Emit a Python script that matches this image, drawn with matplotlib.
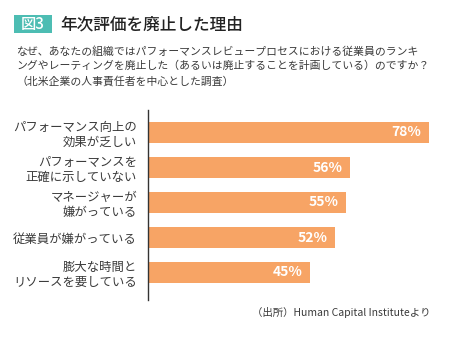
import matplotlib
matplotlib.use("Agg")
import matplotlib.pyplot as plt
from matplotlib.patches import Rectangle

plt.rcParams['font.family'] = ['Noto Sans CJK JP', 'DejaVu Sans']

# データ
reasons = ['パフォーマンス向上の\n効果が乏しい',
           'パフォーマンスを\n正確に示していない',
           'マネージャーが\n嫌がっている',
           '従業員が嫌がっている',
           '膨大な時間と\nリソースを要している']
values = [78, 56, 55, 52, 45]
value_labels = ['78%', '56%', '55%', '52%', '45%']

bar_color = '#F7A465'
text_color = '#3a3a3a'

fig = plt.figure(figsize=(4.58, 3.46), dpi=100)
W, H = 458, 346

# 軸: x=148px から右端まで, y=110px から 300px
ax = fig.add_axes([148 / W, (H - 300) / H, (W - 148) / W, 190 / H])
ypos = list(range(len(values)))
ax.barh(ypos, values, height=0.6, color=bar_color)
ax.set_xlim(0, (W - 148) / 3.6)
ax.set_ylim(4 + 27.5 / 35, -22.5 / 35)

for y, v, lab in zip(ypos, values, value_labels):
    ax.text(v - 2, y, lab, ha='right', va='center', color='white',
            fontsize=10, fontweight='bold', family=['Noto Sans CJK JP', 'DejaVu Sans'])

ax.set_yticks(ypos)
ax.set_yticklabels(reasons, fontsize=8.9, color=text_color, linespacing=1.15)
ax.tick_params(axis='y', length=0, pad=8)
ax.set_xticks([])
for s in ['top', 'right', 'bottom']:
    ax.spines[s].set_visible(False)
ax.spines['left'].set_color('#333333')
ax.spines['left'].set_linewidth(1.0)

# タイトル
fig.patches.append(Rectangle((14 / W, 1 - 33 / H), 38 / W, 18 / H,
                             transform=fig.transFigure, fc='#4DBDB3', ec='none'))
fig.text(33 / W, 1 - 24 / H, '図3', ha='center', va='center', color='white',
         fontsize=11, fontweight='medium')
fig.text(60 / W, 1 - 24 / H, '年次評価を廃止した理由', ha='left', va='center',
         color='#222222', fontsize=12, fontweight='medium')

fig.text(16 / W, 1 - 46 / H,
         'なぜ、あなたの組織ではパフォーマンスレビュープロセスにおける従業員のランキ\n'
         'ングやレーティングを廃止した（あるいは廃止することを計画している）のですか？\n'
         '（北米企業の人事責任者を中心とした調査）',
         ha='left', va='top', color=text_color, fontsize=7.8, linespacing=1.5)

fig.text(430 / W, 1 - 313 / H, '（出所）Human Capital Instituteより',
         ha='right', va='center', color=text_color, fontsize=7.5)

fig.savefig('out.png', dpi=100)
